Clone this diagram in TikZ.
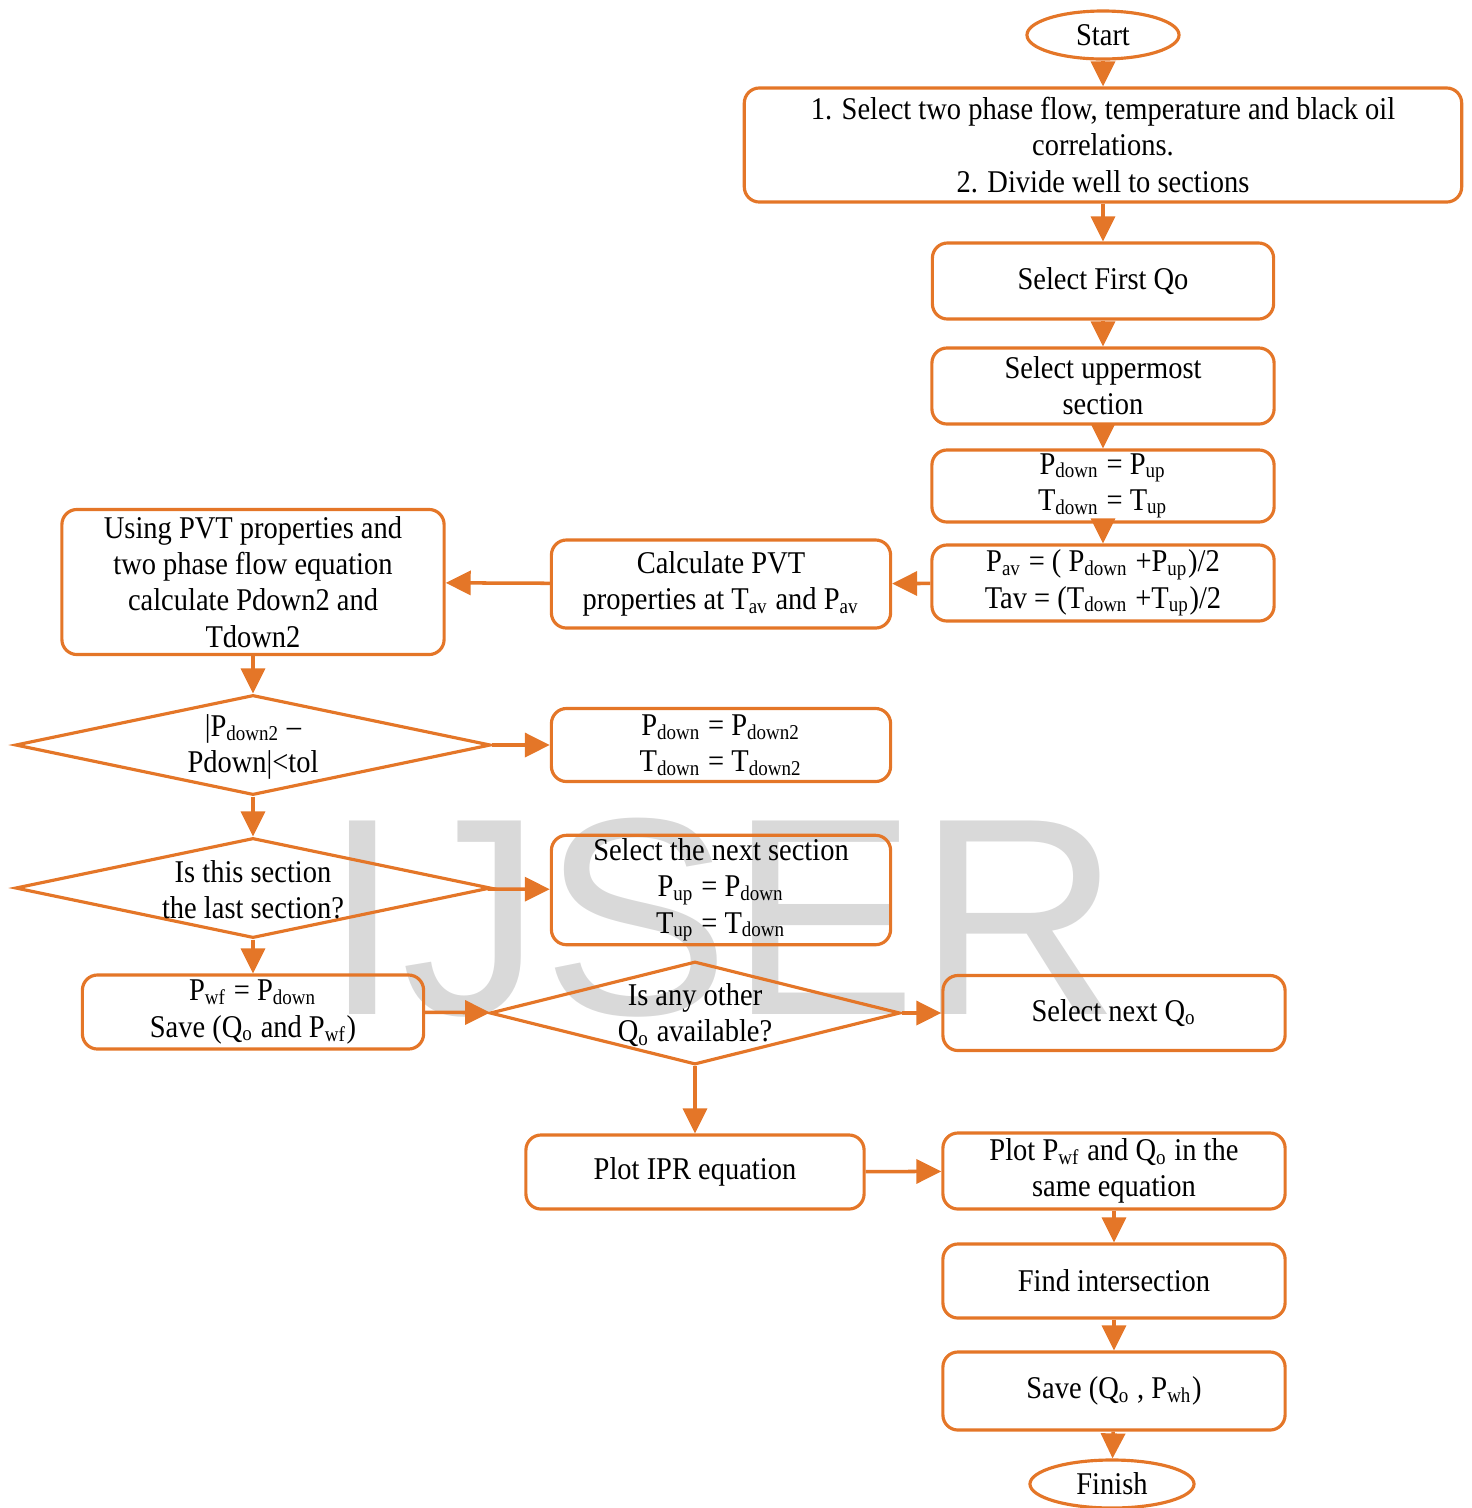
\documentclass[tikz,border=0pt]{standalone}
\usepackage{fontspec}
\setmainfont{Liberation Serif}[FakeStretch=0.9]
\setsansfont{Liberation Sans}
\usetikzlibrary{positioning,shapes.geometric,arrows.meta}
\definecolor{flowor}{RGB}{228,118,40}

\begin{document}
\begin{tikzpicture}[x=0.01cm, y=-0.01cm,
  procbox/.style={rectangle, rounded corners=4.3pt, draw=flowor, line width=0.9pt, align=center, inner sep=1pt, font=\fontsize{9}{10.3}\selectfont},
  termnode/.style={ellipse, draw=flowor, line width=0.9pt, inner sep=0pt, font=\fontsize{9}{10.3}\selectfont},
  decision/.style={diamond, draw=flowor, line width=0.9pt, inner sep=0pt},
  dtext/.style={align=center, inner sep=0pt, font=\fontsize{9}{10.3}\selectfont},
  flowarrow/.style={draw=flowor, line width=1pt, -{Triangle[length=2.5mm, width=2.4mm]}}]
\useasboundingbox (0,0) rectangle (1472,1508);

% watermark
\node[font=\sffamily\fontsize{80}{80}\selectfont, text=gray!30] (mark) at (722,918) {IJSER};

% right column, top
\node[termnode, minimum width=1.52cm, minimum height=0.48cm] (start) at (1103,35) {Start};
\node[procbox, minimum width=7.17cm, minimum height=1.14cm] (corr) at (1103,145) {1. Select two phase flow, temperature and black oil\\ correlations.\\ 2. Divide well to sections};
\node[procbox, minimum width=3.41cm, minimum height=0.76cm] (firstq) at (1103,281) {Select First Qo};
\node[procbox, minimum width=3.42cm, minimum height=0.76cm] (upper) at (1103,386) {Select uppermost\\ section};
\node[procbox, minimum width=3.42cm, minimum height=0.72cm] (pdown) at (1103,486) {P\textsubscript{down} = P\textsubscript{up}\\ T\textsubscript{down} = T\textsubscript{up}};
\node[procbox, minimum width=3.42cm, minimum height=0.76cm] (pav) at (1103,583) {P\textsubscript{av} = ( P\textsubscript{down} +P\textsubscript{up})/2\\ Tav = (T\textsubscript{down} +T\textsubscript{up})/2};

% middle and left
\node[procbox, minimum width=3.39cm, minimum height=0.88cm] (calc) at (721,584) {Calculate PVT\\ properties at T\textsubscript{av} and P\textsubscript{av}};
\node[procbox, minimum width=3.82cm, minimum height=1.45cm] (using) at (253,582) {Using PVT properties and\\ two phase flow equation\\ calculate Pdown2 and\\ Tdown2};

\node[decision, minimum width=4.75cm, minimum height=1.0cm] (tol) at (253,745) {};
\node[dtext] (toltx) at (253,747) {|P\textsubscript{down2} –\\ Pdown|<tol};
\node[procbox, minimum width=3.39cm, minimum height=0.73cm] (pdown2) at (721,745) {P\textsubscript{down} = P\textsubscript{down2}\\ T\textsubscript{down} = T\textsubscript{down2}};

\node[decision, minimum width=4.75cm, minimum height=1.0cm] (last) at (253,888) {};
\node[dtext] (lasttx) at (253,890) {Is this section\\ the last section?};
\node[procbox, minimum width=3.39cm, minimum height=0.90cm] (nextsec) at (721,890) {Select the next section\\ P\textsubscript{up} = P\textsubscript{down}\\ T\textsubscript{up} = T\textsubscript{down}};

\node[procbox, minimum width=3.41cm, minimum height=0.74cm] (pwf) at (253,1012) {P\textsubscript{wf} = P\textsubscript{down}\\ Save (Q\textsubscript{o} and P\textsubscript{wf})};
\node[decision, minimum width=4.1cm, minimum height=1.03cm] (other) at (695,1013) {};
\node[dtext] (othertx) at (695,1015) {Is any other\\ Q\textsubscript{o} available?};
\node[procbox, minimum width=3.42cm, minimum height=0.75cm] (nextq) at (1114,1013) {Select next Q\textsubscript{o}};

% bottom
\node[procbox, minimum width=3.38cm, minimum height=0.74cm] (ipr) at (695,1172) {Plot IPR equation};
\node[procbox, minimum width=3.42cm, minimum height=0.76cm] (plotpwf) at (1114,1171) {Plot P\textsubscript{wf} and Q\textsubscript{o} in the\\ same equation};
\node[procbox, minimum width=3.42cm, minimum height=0.74cm] (inter) at (1114,1281) {Find intersection};
\node[procbox, minimum width=3.42cm, minimum height=0.78cm] (save) at (1114,1391) {Save (Q\textsubscript{o} , P\textsubscript{wh})};
\node[termnode, minimum width=1.64cm, minimum height=0.48cm] (finish) at (1112,1484) {Finish};

% connectors
\draw[flowarrow] (start) -- (corr);
\draw[flowarrow] (corr) -- (firstq);
\draw[flowarrow] (firstq) -- (upper);
\draw[flowarrow] (upper) -- (pdown);
\draw[flowarrow] (pdown) -- (pav);
\draw[flowarrow] (pav) -- (calc);
\draw[flowarrow] (calc) -- (using);
\draw[flowarrow] (using) -- (tol);
\draw[flowarrow] (tol) -- (pdown2);
\draw[flowarrow] (tol) -- (last);
\draw[flowarrow] (last) -- (nextsec);
\draw[flowarrow] (last) -- (pwf);
\draw[flowarrow] (pwf) -- (other);
\draw[flowarrow] (other) -- (nextq);
\draw[flowarrow] (other) -- (ipr);
\draw[flowarrow] (ipr) -- (plotpwf);
\draw[flowarrow] (plotpwf) -- (inter);
\draw[flowarrow] (inter) -- (save);
\draw[flowarrow] (save) -- (finish);

\end{tikzpicture}
\end{document}
